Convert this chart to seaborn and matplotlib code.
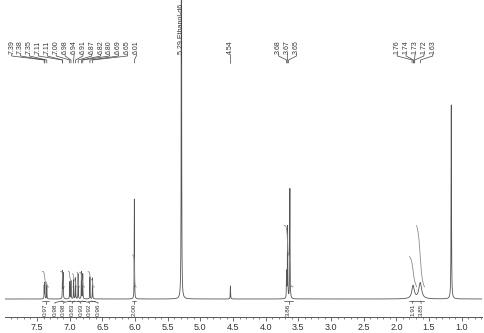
import numpy as np
import pandas as pd
import matplotlib
matplotlib.use("Agg")
import matplotlib.pyplot as plt
from matplotlib.ticker import MultipleLocator, FormatStrFormatter
import seaborn as sns

# peak list: shift (ppm), height (arb.), half width (ppm)
peak_ppm = [7.39, 7.38, 7.35, 7.11, 7.10, 7.00, 6.98, 6.94, 6.91, 6.87, 6.82, 6.80,
            6.69, 6.65, 6.01, 5.29, 4.54, 3.68, 3.665, 3.63, 1.745, 1.635, 1.16]
peak_height = [13, 16, 14, 27, 25, 17, 18, 19, 21, 25, 27, 25,
               22, 21, 100, 700, 13, 26, 72, 110, 13, 16, 194]
peak_hw = [0.0025] * 14 + [0.0025, 0.0025, 0.003, 0.003, 0.003, 0.003, 0.022, 0.025, 0.0035]

# peak picking labels
label_ppm = [7.39, 7.38, 7.35, 7.11, 7.11, 7.00, 6.98, 6.94, 6.91, 6.87, 6.82, 6.80,
             6.69, 6.65, 6.01, 5.29, 4.54, 3.68, 3.67, 3.65, 1.76, 1.74, 1.73, 1.72, 1.63]
label_note = {5.29: " Ethanol-d6"}

# integrals: region (ppm) and value
int_hi = [7.42, 7.14, 7.02, 6.96, 6.89, 6.85, 6.72, 6.04, 3.72, 1.80, 1.69]
int_lo = [7.32, 7.08, 6.96, 6.89, 6.85, 6.77, 6.62, 5.98, 3.58, 1.69, 1.57]
int_val = [0.97, 0.98, 0.98, 0.83, 0.93, 0.92, 0.96, 2.00, 3.86, 1.91, 3.85]

W, H = 485, 333
sns.set_style("white")
plt.rcParams['font.family'] = ['Liberation Sans', 'DejaVu Sans']

grid = np.arange(0.6, 8.1, 0.0005)
spec = np.zeros_like(grid)
for p, h, w in zip(peak_ppm, peak_height, peak_hw):
    spec += h * w ** 2 / (w ** 2 + (grid - p) ** 2)
df = pd.DataFrame({"ppm": grid, "I": spec})

fig = plt.figure(figsize=(W / 100, H / 100), dpi=100)
ax = fig.add_axes([5 / W, 16 / H, 477 / W, 317 / H])
sns.lineplot(data=df, x="ppm", y="I", ax=ax, color="#555555", lw=0.6,
             estimator=None, sort=False)

# integral curves
for hi, lo, v in zip(int_hi, int_lo, int_val):
    sub = df[(df.ppm >= lo) & (df.ppm <= hi)]
    cs = sub.I.cumsum().values
    curve = 12 + 16 * v * cs / cs[-1]
    sns.lineplot(x=sub.ppm.values, y=curve, ax=ax, color="#8c8c8c", lw=0.6,
                 estimator=None, sort=False)

ax.set_xlim(7.99, 0.69)
ax.set_ylim(-18, 299)
ax.set_xlabel("")
ax.set_ylabel("")
ax.set_yticks([])
for s in ["left", "right", "top"]:
    ax.spines[s].set_visible(False)
ax.spines["bottom"].set_color("#555555")
ax.spines["bottom"].set_linewidth(0.7)
ax.xaxis.set_major_locator(MultipleLocator(0.5))
ax.xaxis.set_minor_locator(MultipleLocator(0.1))
ax.xaxis.set_major_formatter(FormatStrFormatter("%.1f"))
ax.tick_params(axis="x", which="major", direction="out", length=3, width=0.6,
               color="#555555", labelsize=6.5, labelcolor="#333333", pad=1.5)
ax.tick_params(axis="x", which="minor", direction="out", length=1.5, width=0.5,
               color="#555555")
ax.tick_params(axis="x", which="both", bottom=True)

# overlay in pixel coordinates for annotations
ov = fig.add_axes([0, 0, 1, 1])
ov.set_xlim(0, W)
ov.set_ylim(H, 0)
ov.axis("off")


def px(ppm):
    return ax.transData.transform((ppm, 0))[0]


def spread(xs, gap):
    blocks = []
    for x in xs:
        blocks.append([x, 1])
        while len(blocks) > 1:
            m1, n1 = blocks[-2]
            m2, n2 = blocks[-1]
            if (m2 - (n2 - 1) * gap / 2) - (m1 + (n1 - 1) * gap / 2) < gap:
                blocks[-2:] = [[(m1 * n1 + m2 * n2) / (n1 + n2), n1 + n2]]
            else:
                break
    out = []
    for m, n in blocks:
        out += [m + (i - (n - 1) / 2) * gap for i in range(n)]
    return out


lc = "#444444"
peak_x = [px(p) for p in label_ppm]
lab_x = spread(peak_x, 8.9)
for p, x0, lx in zip(label_ppm, peak_x, lab_x):
    txt = f"{p:.2f}" + label_note.get(p, "")
    ov.text(lx, 54, txt, rotation=90, ha="center", va="bottom", fontsize=5,
            color="#333333")
    ov.plot([lx, lx, x0, x0], [54, 56, 60, 63], color=lc, lw=0.5)

cen_x = [px((hi + lo) / 2) for hi, lo in zip(int_hi, int_lo)]
int_x = spread(cen_x, 8.6)
for hi, lo, v, cx, lx in zip(int_hi, int_lo, int_val, cen_x, int_x):
    ov.plot([px(hi), px(lo)], [301, 301], color=lc, lw=0.5)
    ov.plot([cx, lx, lx], [301, 302.5, 303.5], color=lc, lw=0.5)
    ov.text(lx, 303.5, f"{v:.2f}", rotation=90, ha="center", va="top", fontsize=4.6,
            color="#333333")

fig.savefig("out.png", dpi=100)
